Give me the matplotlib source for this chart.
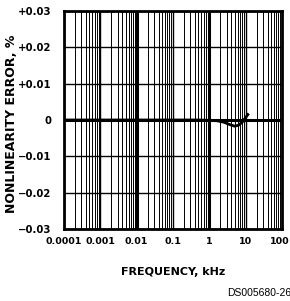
import numpy as np
import matplotlib.pyplot as plt
from matplotlib.ticker import LogLocator, NullFormatter
from matplotlib.transforms import ScaledTranslation

# curve values
freq_khz = [0.0001, 0.001, 0.01, 0.1, 0.5, 1.0, 1.6, 2.5, 3.5, 5.0, 6.5, 8.0, 10.0, 11.5]
error_pct = [0.0, 0.0, 0.0, 0.0, 0.0, -0.0001, -0.0002, -0.0006, -0.0012, -0.0017, -0.0014, -0.0006, 0.0007, 0.0015]

x_ticks = [0.0001, 0.001, 0.01, 0.1, 1, 10, 100]
x_labels = ["0.0001", "0.001", "0.01", "0.1", "1", "10", "100"]
y_ticks = [-0.03, -0.02, -0.01, 0, 0.01, 0.02, 0.03]
y_labels = ["\u22120.03", "\u22120.02", "\u22120.01", "0", "+0.01", "+0.02", "+0.03"]

plt.rcParams['font.family'] = ['DejaVu Sans']

fig = plt.figure(figsize=(2.90, 3.01), dpi=100)
ax = fig.add_axes([64/290, 72/301, 218/290, 218/301])

ax.set_xscale("log")
ax.set_xlim(0.0001, 100)
ax.set_ylim(-0.03, 0.03)

# minor grid
ax.xaxis.set_minor_locator(LogLocator(base=10, subs=np.arange(2, 10)))
ax.xaxis.set_minor_formatter(NullFormatter())
ax.grid(True, which="minor", axis="x", color="black", lw=0.7)
ax.grid(True, which="major", axis="both", color="black", lw=1.0)
ax.axhline(0, color="black", lw=2.2)
for xv in [0.01, 1]:
    ax.axvline(xv, color="black", lw=2.2)

ax.plot(freq_khz, error_pct, color="black", lw=2.0)

ax.set_xticks(x_ticks)
ax.set_xticklabels(x_labels)
ax.set_yticks(y_ticks)
ax.set_yticklabels(y_labels)
ax.tick_params(which="both", length=0, labelsize=7.3)
ax.tick_params(axis="y", pad=9)
ax.tick_params(axis="x", pad=6, labelsize=6.8)
for lab in ax.get_xticklabels() + ax.get_yticklabels():
    lab.set_fontweight("bold")
# nudge "100" a bit left so it stays inside the figure
last = ax.get_xticklabels()[-1]
last.set_transform(last.get_transform() + ScaledTranslation(-2/100, 0, fig.dpi_scale_trans))
for sp in ax.spines.values():
    sp.set_linewidth(2.0)

fig.text(173/290, 1 - 272/301, "FREQUENCY, kHz", fontsize=8, fontweight="bold",
         ha="center", va="center")
fig.text(12/290, 1 - 124/301, "NONLINEARITY ERROR, %", fontsize=9, fontweight="bold",
         ha="center", va="center", rotation=90)

fig.text(227/290, 1 - 293/301, "DS005680-26", fontsize=7.5, va="center", ha="left",
         family="Liberation Sans")

fig.savefig("out.png", dpi=100)
